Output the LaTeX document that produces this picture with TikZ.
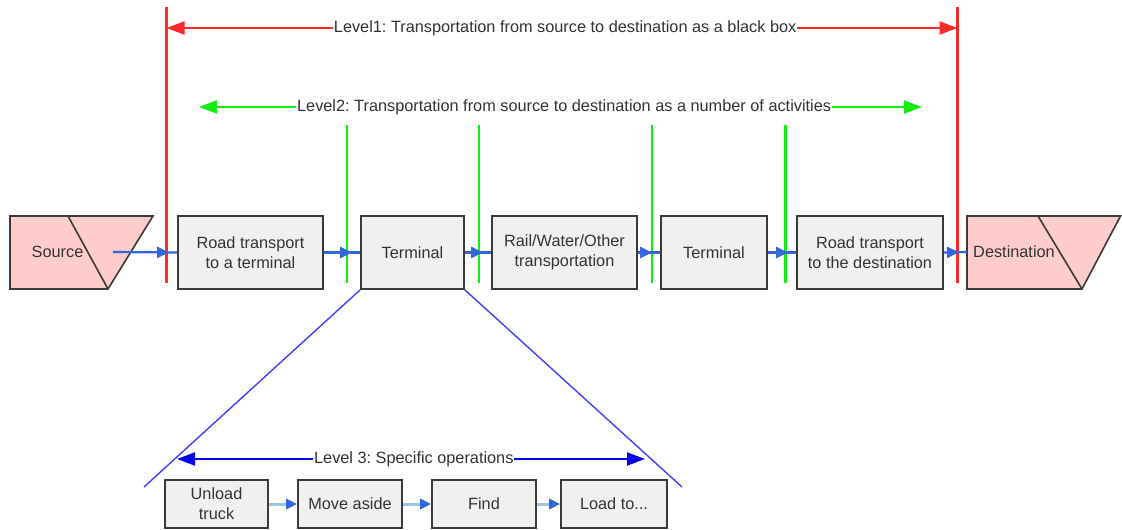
\documentclass[tikz,border=0pt]{standalone}
\usepackage{fontspec}
\setmainfont{Liberation Sans}
\usetikzlibrary{arrows.meta,decorations.markings}
\definecolor{boxfill}{HTML}{F0F0F0}
\definecolor{boxline}{HTML}{3A3A3A}
\definecolor{txt}{HTML}{333333}
\definecolor{pinkfill}{HTML}{FFCCCC}
\definecolor{lvred}{HTML}{FF2A2A}
\definecolor{lvgreen}{HTML}{11EE11}
\definecolor{lvblue}{HTML}{0000EE}
\definecolor{diagblue}{HTML}{3F3FFF}
\definecolor{conblue}{HTML}{3366DD}
\definecolor{lightblue}{HTML}{9DC3EC}
\frenchspacing
\begin{document}
\begin{tikzpicture}[x=1pt,y=-1pt,
  font=\fontsize{16.3}{20}\selectfont, text=txt,
  procbox/.style={draw=boxline, line width=1.6pt, fill=boxfill, align=center, inner sep=0pt},
  mainbox/.style={procbox, minimum height=73pt},
  smallbox/.style={procbox, minimum height=48pt},
  shapeline/.style={draw=boxline, line width=1.6pt},
  flowarrow/.style={conblue, line width=2.2pt, postaction={decorate},
    decoration={markings, mark=at position -8pt with {\arrow{Triangle[length=12pt,width=11pt]}}}},
  subarrow/.style={lightblue, line width=3pt, -{Triangle[length=11pt,width=10pt,color=conblue]}},
  redline/.style={lvred, line width=2.8pt},
  greenline/.style={lvgreen, line width=2.6pt},
  levelred/.style={lvred, line width=2.2pt, {Triangle[length=18pt,width=13pt]}-{Triangle[length=18pt,width=13pt]}},
  levelgreen/.style={lvgreen, line width=2pt, {Triangle[length=18pt,width=13pt]}-{Triangle[length=18pt,width=13pt]}},
  levelblue/.style={lvblue, line width=2pt, {Triangle[length=18pt,width=13pt]}-{Triangle[length=18pt,width=13pt]}},
  diagline/.style={diagblue, line width=1.4pt},
  leveltext/.style={fill=white, text=txt, inner sep=1pt}
]
\useasboundingbox (0,0) rectangle (1122,530);
\fill[white] (0,0) rectangle (1122,530);

% source and destination shapes
\draw[shapeline, fill=pinkfill] (10,216) -- (153,216) -- (108,289) -- (10,289) -- cycle;
\draw[shapeline] (68,216) -- (108,289);
\node (src) at (57.5,252) {Source};
\coordinate (srcout) at (113,252);

\draw[shapeline, fill=pinkfill] (967,216) -- (1120.5,216) -- (1082,289) -- (967,289) -- cycle;
\draw[shapeline] (1038,216) -- (1082,289);
\node (dst) at (1014,252) {Destination};
\coordinate (dstin) at (967,252);

% main process boxes
\node[mainbox, minimum width=145pt] (road1) at (250.5,252.5) {Road transport\\to a terminal};
\node[mainbox, minimum width=103pt] (term1) at (412.5,252.5) {Terminal};
\node[mainbox, minimum width=145pt] (rail) at (564.5,252.5) {Rail/Water/Other\\transportation};
\node[mainbox, minimum width=106pt] (term2) at (714,252.5) {Terminal};
\node[mainbox, minimum width=146pt] (road2) at (870,252.5) {Road transport\\to the destination};

% level lines
\coordinate (rLt) at (166.5,7);  \coordinate (rLb) at (166.5,283);
\coordinate (rRt) at (957.5,7);  \coordinate (rRb) at (957.5,283);
\draw[redline] (rLt) -- (rLb);
\draw[redline] (rRt) -- (rRb);

\coordinate (g1t) at (347,125); \coordinate (g1b) at (347,283);
\coordinate (g2t) at (479,125); \coordinate (g2b) at (479,283);
\coordinate (g3t) at (652,125); \coordinate (g3b) at (652,283);
\coordinate (g4t) at (785.5,125); \coordinate (g4b) at (785.5,283);
\draw[greenline] (g1t) -- (g1b);
\draw[greenline] (g2t) -- (g2b);
\draw[greenline] (g3t) -- (g3b);
\draw[greenline] (g4t) -- (g4b);

\coordinate (l1a) at (166.5,28); \coordinate (l1b) at (957.5,28);
\draw[levelred] (l1a) -- (l1b) node[leveltext, pos=0.504] (lv1) {Level1: Transportation from source to destination as a black box};

\coordinate (l2a) at (199,107); \coordinate (l2b) at (922,107);
\draw[levelgreen] (l2a) -- (l2b) node[leveltext, pos=0.505] (lv2) {Level2: Transportation from source to destination as a number of activities};

% connectors of the main chain
\draw[flowarrow] (srcout) -- (road1.west);
\draw[flowarrow] (road1.east) -- (term1.west);
\draw[flowarrow] (term1.east) -- (rail.west);
\draw[flowarrow] (rail.east) -- (term2.west);
\draw[flowarrow] (term2.east) -- (road2.west);
\draw[flowarrow] (road2.east) -- (dstin);

% zoom lines
\coordinate (diagL) at (144,487);
\coordinate (diagR) at (682,487);
\draw[diagline] (term1.south west) -- (diagL);
\draw[diagline] (term1.south east) -- (diagR);

% level 3
\coordinate (l3a) at (177,459); \coordinate (l3b) at (645,459);
\draw[levelblue] (l3a) -- (l3b) node[leveltext, pos=0.506] (lv3) {Level 3: Specific operations};

\node[smallbox, minimum width=103pt] (unload) at (216.5,504) {Unload\\truck};
\node[smallbox, minimum width=104pt] (move) at (350,504) {Move aside};
\node[smallbox, minimum width=104pt] (find) at (484,504) {Find};
\node[smallbox, minimum width=106pt] (load) at (614,504) {Load to...};

\draw[subarrow] (unload.east) -- (move.west);
\draw[subarrow] (move.east) -- (find.west);
\draw[subarrow] (find.east) -- (load.west);
\end{tikzpicture}
\end{document}
